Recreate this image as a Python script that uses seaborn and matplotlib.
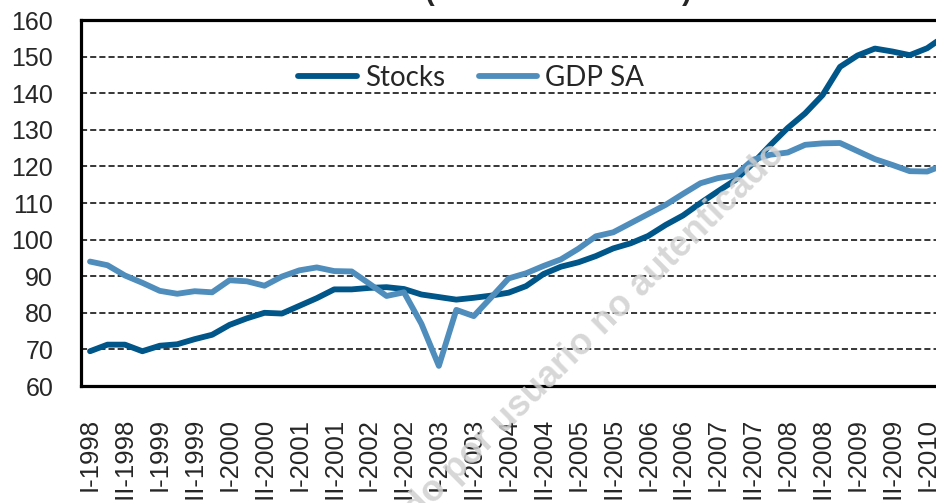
import numpy as np
import pandas as pd
import seaborn as sns
import matplotlib.pyplot as plt

# -------------------------------
# Data (quarterly index values)
# -------------------------------
roman = ["I", "II", "III", "IV"]
quarters = [f"{r}-{y}" for y in range(1998, 2011) for r in roman][:50]

stocks = [69.5, 71.3, 71.3, 69.5, 71.0, 71.4, 72.8, 74.0, 76.7, 78.5,
          80.0, 79.8, 81.9, 84.0, 86.4, 86.4, 86.8, 87.0, 86.5, 85.0,
          84.3, 83.6, 84.1, 84.7, 85.5, 87.3, 90.6, 92.6, 93.8, 95.5,
          97.6, 99.0, 101.0, 104.0, 106.6, 110.0, 113.2, 116.3, 120.8, 125.8,
          130.5, 134.5, 139.5, 147.2, 150.3, 152.2, 151.4, 150.4, 152.3, 155.6]

gdp_sa = [94.0, 93.0, 90.2, 88.2, 86.0, 85.2, 85.9, 85.6, 88.9, 88.6,
          87.4, 89.9, 91.6, 92.4, 91.4, 91.3, 88.0, 84.6, 85.6, 77.0,
          65.5, 80.8, 79.1, 84.2, 89.4, 90.8, 92.8, 94.6, 97.5, 100.9,
          102.0, 104.5, 107.0, 109.5, 112.5, 115.4, 116.8, 117.6, 121.8, 123.2,
          123.8, 125.9, 126.3, 126.4, 124.2, 122.0, 120.4, 118.7, 118.6, 120.5]

series_names = ["Stocks", "GDP SA"]
colors = ["#005589", "#4f8dbd"]
yticks = list(range(60, 161, 10))

df = pd.DataFrame({"q": np.arange(len(quarters)), "Stocks": stocks, "GDP SA": gdp_sa})
long = df.melt(id_vars="q", var_name="series", value_name="value")

# -------------------------------
# Plot
# -------------------------------
sns.set_style("white")
plt.rcParams['font.family'] = ['Liberation Sans', 'DejaVu Sans']

fig = plt.figure(figsize=(9.37, 5.03), dpi=100)
ax = fig.add_axes([0.0864, 0.2326, 0.9136, 0.7276])

sns.lineplot(data=long, x="q", y="value", hue="series", hue_order=series_names,
             palette=colors, linewidth=4.2, ax=ax, legend=False,
             solid_capstyle="round", solid_joinstyle="round", zorder=3)

ax.set_xlim(-0.52, 48.56)
ax.set_ylim(60, 160)
ax.set_yticks(yticks)
ax.set_yticklabels([str(v) for v in yticks], fontsize=18)
ax.set_xticks(df["q"][::2])
ax.set_xticklabels(quarters[::2], rotation=90, fontsize=18.5, va="top", ha="center")
ax.tick_params(axis="y", length=0, pad=20)
ax.tick_params(axis="x", length=0, pad=23)
ax.set_xlabel("")
ax.set_ylabel("")

for yv in yticks[1:-1]:
    ax.axhline(yv, color="black", linewidth=1.1, linestyle=(0, (4, 2)), zorder=1)

for side in ["left", "bottom", "top"]:
    ax.spines[side].set_color("black")
    ax.spines[side].set_linewidth(2.3)
ax.spines["right"].set_visible(False)

handles = [plt.Line2D([], [], color=c, linewidth=4.2, solid_capstyle="round") for c in colors]
ax.legend(handles, series_names, loc="center", bbox_to_anchor=(0.456, 0.842),
          ncol=2, frameon=False, handlelength=2.1, handletextpad=0.3,
          columnspacing=1.2, prop={"family": "Lato", "size": 20})

# cropped title and watermark from the source image
fig.text(0.5955, 1.0, "(Index I-2000 = 100)", ha="center", va="baseline",
         fontsize=20.9, fontweight="bold")
fig.text(786 / 937, 1 - 155 / 503, "descargado por usuario no autenticado",
         rotation=44.7, rotation_mode="anchor", ha="right", va="baseline",
         fontsize=26, fontweight="bold", color="#d0d0d0", alpha=0.85, zorder=0)

plt.savefig("out.png", dpi=100)
